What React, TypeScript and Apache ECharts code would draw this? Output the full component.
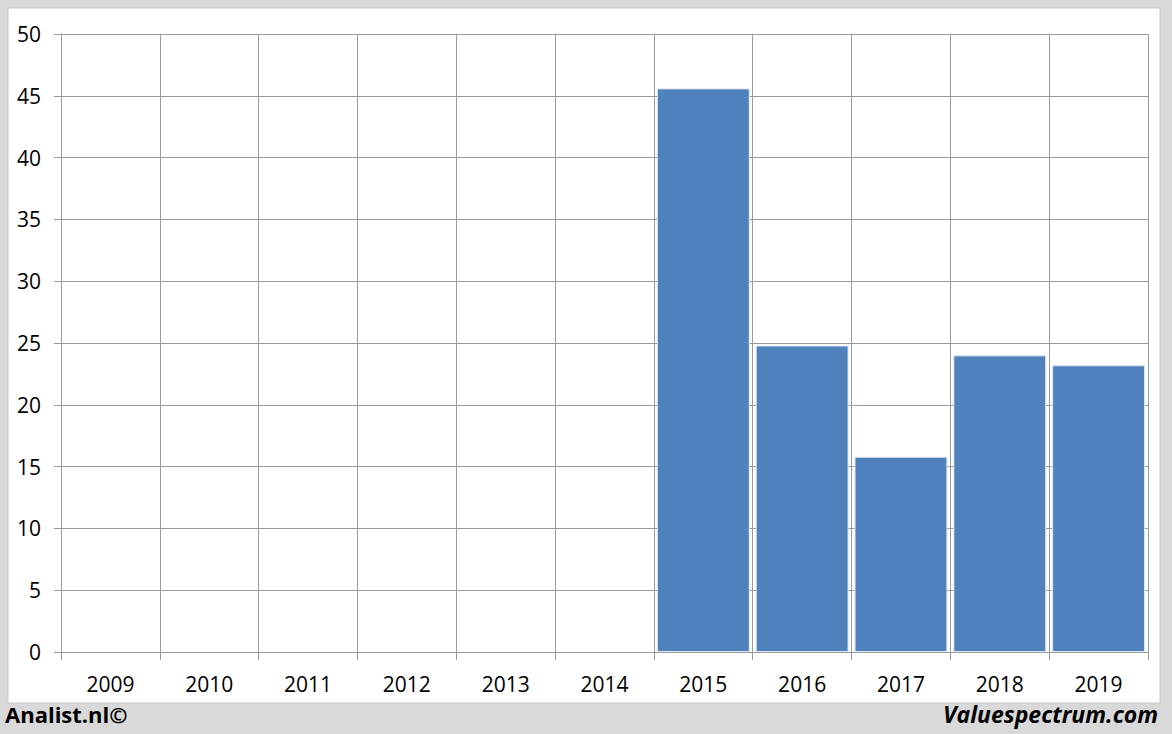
import React, { useEffect, useRef } from "react";
import * as echarts from "echarts";

const years = ["2009", "2010", "2011", "2012", "2013", "2014", "2015", "2016", "2017", "2018", "2019"];
const values: (number | null)[] = [null, null, null, null, null, null, 45.6, 24.8, 15.8, 24.0, 23.2];
const yTicks = { min: 0, max: 50, interval: 5 };

export default function App() {
  const ref = useRef<HTMLDivElement>(null);
  useEffect(() => {
    if (!ref.current) return;
    const chart = echarts.init(ref.current, undefined, { renderer: "svg" });
    const font = "'Open Sans', 'Liberation Sans', sans-serif";
    chart.setOption({
      animation: false,
      backgroundColor: "#d9d9d9",
      graphic: [
        { type: "rect", z: -10, shape: { x: 8, y: 8, width: 1152, height: 695 }, style: { fill: "#ffffff", stroke: "#c8c8c8", lineWidth: 1 } },
        { type: "text", left: 5, top: 703, style: { text: "Analist.nl©", font: `bold 22px ${font}`, fill: "#000" } },
        { type: "text", right: 14, top: 702, style: { text: "Valuespectrum.com", font: `italic bold 23px ${font}`, fill: "#000" } },
      ],
      grid: { left: 61, top: 34, width: 1087, height: 618, containLabel: false },
      xAxis: {
        type: "category",
        data: years,
        boundaryGap: true,
        axisLine: { show: true, lineStyle: { color: "#9a9a9a", width: 1 } },
        axisTick: { show: true, length: 8, alignWithLabel: false, lineStyle: { color: "#9a9a9a" } },
        splitLine: { show: true, lineStyle: { color: "#9a9a9a", width: 1 } },
        axisLabel: { color: "#000", fontSize: 21, fontFamily: font, margin: 21 },
      },
      yAxis: {
        type: "value",
        min: yTicks.min,
        max: yTicks.max,
        interval: yTicks.interval,
        axisLine: { show: true, lineStyle: { color: "#9a9a9a", width: 1 } },
        axisTick: { show: true, length: 7, lineStyle: { color: "#9a9a9a" } },
        splitLine: { show: true, lineStyle: { color: "#9a9a9a", width: 1 } },
        axisLabel: { color: "#000", fontSize: 21, fontFamily: font, margin: 20 },
      },
      series: [
        {
          type: "bar",
          data: values,
          barCategoryGap: "6%",
          itemStyle: { color: "#4f81bd", borderColor: "#dfe7f2", borderWidth: 1 },
        },
      ],
    });
    return () => chart.dispose();
  }, []);
  return <div ref={ref} style={{ position: "absolute", left: 0, top: 0, width: 1172, height: 734 }} />;
}
